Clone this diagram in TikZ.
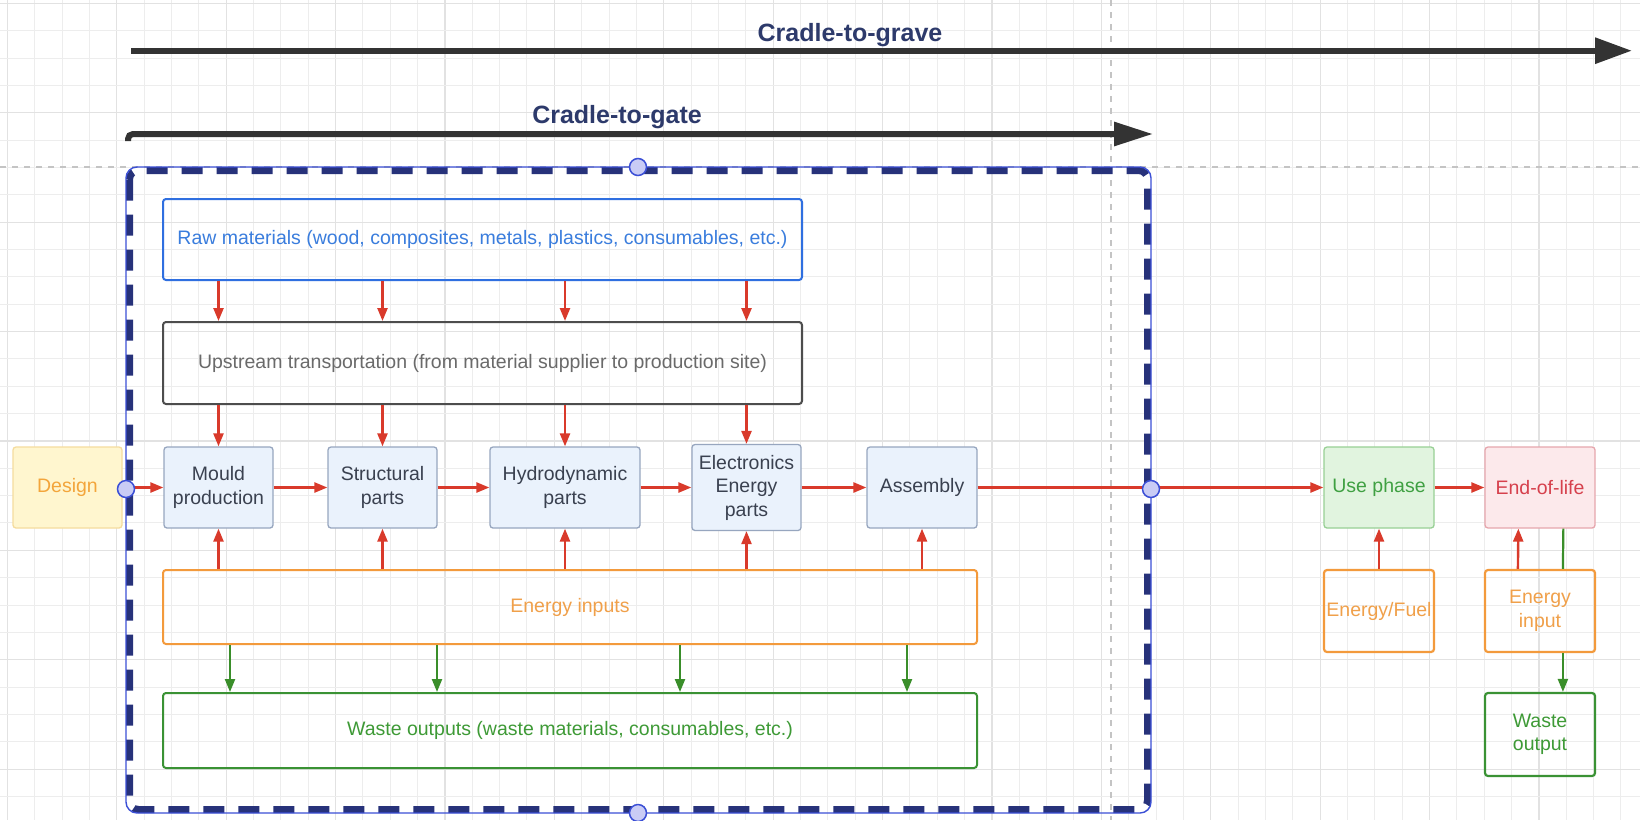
\documentclass[tikz,border=0pt]{standalone}
\usepackage{fontspec}
\setmainfont{Liberation Sans}
\usetikzlibrary{arrows.meta,calc}

\definecolor{titlenavy}{HTML}{2D3A6B}
\definecolor{arrowgrey}{HTML}{333333}
\definecolor{framenavy}{HTML}{27327A}
\definecolor{frameblue}{HTML}{3B4FD6}
\definecolor{handlefill}{HTML}{C9CCF5}
\definecolor{redc}{HTML}{D93A2B}
\definecolor{greenc}{HTML}{3A8E2A}
\definecolor{orangeline}{HTML}{F39A3C}
\definecolor{orangetext}{HTML}{F0A04A}
\definecolor{rawline}{HTML}{2F6FE0}
\definecolor{rawtext}{HTML}{3A7DDD}
\definecolor{upsline}{HTML}{4D4D4D}
\definecolor{upstext}{HTML}{6A6A6A}
\definecolor{procfill}{HTML}{EAF2FC}
\definecolor{procline}{HTML}{97A6BF}
\definecolor{proctext}{HTML}{3A4150}
\definecolor{desfill}{HTML}{FFF6CF}
\definecolor{desline}{HTML}{F5DC9E}
\definecolor{destext}{HTML}{F3A53B}
\definecolor{usefill}{HTML}{E1F4DF}
\definecolor{useline}{HTML}{98D095}
\definecolor{usetext}{HTML}{3FA042}
\definecolor{eolfill}{HTML}{FCE9EB}
\definecolor{eolline}{HTML}{E6A6AD}
\definecolor{eoltext}{HTML}{D6404C}
\definecolor{wasteline}{HTML}{3A9234}
\definecolor{wastetext}{HTML}{3E9A36}
\definecolor{gridminor}{HTML}{EDEDED}
\definecolor{gridmajor}{HTML}{E2E2E2}
\definecolor{guidegrey}{HTML}{C4C4C4}

\newcommand\boxfont{\fontsize{19.5}{23.5}\selectfont}
\newcommand\titlefont{\fontsize{25}{30}\selectfont\bfseries}

\pgfdeclarelayer{bg}
\pgfdeclarelayer{fg}
\pgfsetlayers{bg,main,fg}

\tikzset{
  box/.style={draw, rounded corners=3pt, align=center, inner sep=1pt, font=\boxfont},
  procbox/.style={box, line width=1.3pt, fill=procfill, draw=procline, text=proctext,
    minimum width=109pt, minimum height=81pt},
  widebox/.style={box, line width=2pt},
  sidebox/.style={box, line width=2.2pt, minimum width=110pt, minimum height=82pt},
  redarrow/.style={draw=redc, line width=2.4pt, -{Triangle[length=13pt,width=10pt]}},
  greenarrow/.style={draw=greenc, line width=2.2pt, -{Triangle[length=13pt,width=10pt]}},
  greenline/.style={draw=greenc, line width=2.2pt},
  bigarrow/.style={draw=arrowgrey, line width=6pt},
  title/.style={font=\titlefont, text=titlenavy, anchor=base, inner sep=0pt},
  handle/.style={circle, fill=handlefill, draw=frameblue, line width=1.5pt,
    minimum size=17pt, inner sep=0pt},
  guide/.style={draw=guidegrey, line width=1.3pt, dash pattern=on 6pt off 6pt},
}

\begin{document}
\begin{tikzpicture}[x=1pt,y=-1pt]
\useasboundingbox (0,0) rectangle (1640,820);

% background grid with a slightly heavier line every fourth cell
\begin{pgfonlayer}{bg}
  \fill[white] (0,0) rectangle (1640,820);
  \foreach \i in {0,...,59}{
    \pgfmathsetmacro\gx{7.3+\i*27.35}
    \pgfmathtruncatemacro\m{mod(\i,4)}
    \ifnum\m=0
      \draw[gridmajor, line width=1.2pt] (\gx,0) -- (\gx,820);
    \else
      \draw[gridminor, line width=1pt] (\gx,0) -- (\gx,820);
    \fi
  }
  \foreach \j in {0,...,29}{
    \pgfmathsetmacro\gy{3.3+\j*27.35}
    \pgfmathtruncatemacro\m{mod(\j,4)}
    \ifnum\m=0
      \draw[gridmajor, line width=1.2pt] (0,\gy) -- (1640,\gy);
    \else
      \draw[gridminor, line width=1pt] (0,\gy) -- (1640,\gy);
    \fi
  }
  % guide lines
  \draw[guide] (1111,0) -- (1111,820);
  \draw[guide] (0,167) -- (1640,167);
\end{pgfonlayer}

% system boundary
\draw[framenavy, line width=7pt, dash pattern=on 21pt off 14pt, rounded corners=9pt]
  (129.5,170.5) rectangle (1147.5,809.5);
\draw[frameblue, line width=1.4pt, rounded corners=11pt] (126,167) rectangle (1151,813);

% scope arrows
\coordinate (gv0) at (131,50.7);
\coordinate (gv1) at (1632,50.7);
\draw[bigarrow, -{Triangle[length=37pt,width=25pt]}] (gv0) -- (gv1);
\node[title] (lgrave) at (850,41.7) {Cradle-to-grave};

\coordinate (gt0) at (128,141);
\coordinate (gt1) at (1153,134);
\draw[bigarrow, rounded corners=5pt, -{Triangle[length=39pt,width=23pt]}]
  (gt0) |- (gt1);
\node[title] (lgate) at (617,123) {Cradle-to-gate};

% upstream boxes
\node[widebox, draw=rawline, text=rawtext, minimum width=639pt, minimum height=81pt]
  (raw) at (482.5,239.5) {Raw materials (wood, composites, metals, plastics, consumables, etc.)};
\node[widebox, draw=upsline, text=upstext, minimum width=639pt, minimum height=82pt]
  (ups) at (482.5,363) {Upstream transportation (from material supplier to production site)};

% process chain
\node[box, line width=1.3pt, fill=desfill, draw=desline, text=destext,
  minimum width=109pt, minimum height=81pt] (design) at (67.5,487.5) {Design};
\node[procbox] (mould)  at (218.5,487.5) {Mould\\production};
\node[procbox] (struct) at (382.5,487.5) {Structural\\parts};
\node[procbox, minimum width=150pt] (hydro) at (565,487.5) {Hydrodynamic\\parts};
\node[procbox, minimum height=86pt] (elec) at (746.5,487.5) {Electronics\\Energy\\parts};
\node[procbox, minimum width=110pt] (assy) at (922,487.5) {Assembly};

\node[box, line width=1.3pt, fill=usefill, draw=useline, text=usetext,
  minimum width=110pt, minimum height=81pt] (use) at (1379,487.5) {Use phase};
\node[box, line width=1.3pt, fill=eolfill, draw=eolline, text=eoltext,
  minimum width=110pt, minimum height=81pt] (eol) at (1540,487.5) {End-of-life};

% inputs and outputs
\node[widebox, draw=orangeline, text=orangetext, minimum width=814pt, minimum height=74pt]
  (ein) at (570,607) {Energy inputs};
\node[widebox, draw=wasteline, text=wastetext, minimum width=814pt, minimum height=75pt]
  (wst) at (570,730.5) {Waste outputs (waste materials, consumables, etc.)};
\node[sidebox, draw=orangeline, text=orangetext] (efuel) at (1379,611) {Energy/Fuel};
\node[sidebox, draw=orangeline, text=orangetext] (einp) at (1540,611) {Energy\\input};
\node[sidebox, draw=wasteline, text=wastetext, minimum height=83pt] (wout) at (1540,734.5) {Waste\\output};

% material flows
\foreach \p in {mould,struct,hydro,elec}{
  \draw[redarrow] (raw.south -| \p) -- (ups.north -| \p);
  \draw[redarrow] (ups.south -| \p) -- (\p.north);
}
\foreach \p in {mould,struct,hydro,elec,assy}{
  \draw[redarrow] (ein.north -| \p) -- (\p.south);
}
\foreach \dx in {68,275,518,745}{
  \draw[greenarrow] ($(ein.south west)+(\dx,0)$) -- ($(wst.north west)+(\dx,0)$);
}

\draw[redarrow] (design) -- (mould);
\draw[redarrow] (mould) -- (struct);
\draw[redarrow] (struct) -- (hydro);
\draw[redarrow] (hydro) -- (elec);
\draw[redarrow] (elec) -- (assy);
\draw[redarrow] (assy) -- (use);
\draw[redarrow] (use) -- (eol);
\draw[redarrow] (efuel) -- (use);
\draw[redarrow] ($(einp.north west)+(34,0)$) -- ($(eol.south west)+(34,0)$);
\draw[greenline] ($(eol.south west)+(79,0)$) -- ($(einp.north west)+(79,0)$);
\draw[greenarrow] ($(einp.south west)+(79,0)$) -- ($(wout.north west)+(79,0)$);

% boundary handles
\begin{pgfonlayer}{fg}
  \node[handle] (hl) at (126,489) {};
  \node[handle] (hr) at (1151,489) {};
  \node[handle] (ht) at (638,167) {};
  \node[handle] (hb) at (638,813) {};
\end{pgfonlayer}
\end{tikzpicture}
\end{document}
